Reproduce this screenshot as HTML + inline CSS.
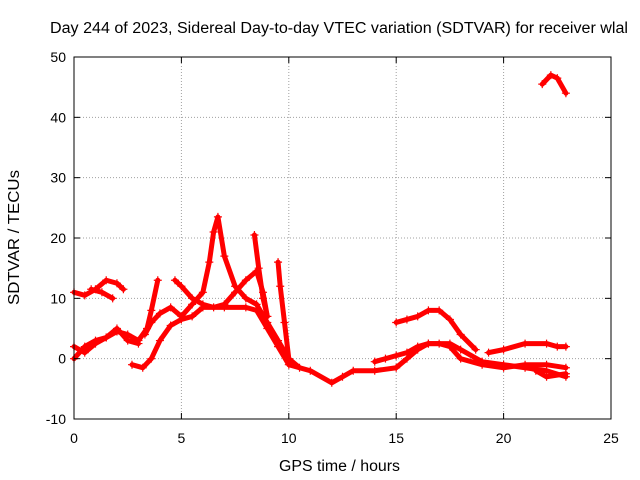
<!DOCTYPE html>
<html><head><meta charset="utf-8"><style>
body{margin:0;background:#fff;}
svg{display:block;font-family:"Liberation Sans",sans-serif;}
</style></head><body>
<svg id="chart" width="640" height="480">
<rect width="640" height="480" fill="#fff"/>
<g id="grid"></g>
<g id="series"></g>
<g id="axes"></g>
<text x="50" y="33" font-size="15.5" textLength="578" lengthAdjust="spacingAndGlyphs">Day 244 of 2023, Sidereal Day-to-day VTEC variation (SDTVAR) for receiver wlal</text>
<text x="279" y="471" font-size="15.5" textLength="121" lengthAdjust="spacingAndGlyphs">GPS time / hours</text>
<text transform="translate(19,305) rotate(-90)" font-size="15.5" textLength="135" lengthAdjust="spacingAndGlyphs">SDTVAR / TECUs</text>
</svg>
<script>
const xTicks=[0,5,10,15,20,25];
const yTicks=[-10,0,10,20,30,40,50];
const s1=[[21.8,45.5],[22.2,47],[22.5,46.5],[22.9,44]];
const s2=[[0,11],[0.5,10.5],[1,11.5],[1.5,13],[2,12.5],[2.3,11.5]];
const s3=[[0.8,11.5],[1.3,11],[1.8,10]];
const s4=[[0,2],[0.5,1],[1,2.5],[1.5,3.5],[2,4.5],[2.5,4],[3,3],[3.4,5],[3.6,8],[3.9,13]];
const s5=[[0,0],[0.5,2],[1,3],[1.5,3.5],[2,5],[2.5,3],[3,2.5]];
const s6=[[2.7,-1],[3.2,-1.5],[3.6,0],[4,3],[4.5,5.5],[5,6.5],[5.5,7],[6,8.5],[7,8.5],[8,8.5],[8.5,8],[9,5],[9.5,2],[10,-1],[11,-2],[12,-4],[12.5,-3],[13,-2],[14,-2],[15,-1.5],[15.5,0],[16,1.5],[16.5,2.5],[17,2.5],[17.5,2],[18,0],[19,-1],[20,-1.5],[21,-1],[22,-1],[22.9,-1.5]];
const s7=[[3.3,4],[3.6,6],[4,7.5],[4.5,8.5],[5,7],[5.5,9],[6,11],[6.3,16],[6.5,21],[6.7,23.5],[7,17],[7.5,12],[8,10],[8.5,9],[9,6],[9.5,3],[10,0]];
const s8=[[4.7,13],[5,12],[5.5,10],[6,9],[6.5,8.5],[7,9],[7.5,11],[8,13],[8.5,14.5],[8.8,11],[9,7]];
const s9=[[8.4,20.5],[8.6,15],[8.8,10],[9,7]];
const s10=[[9.5,16],[9.6,12],[9.8,6],[10,0],[10.5,-1.5]];
const s11=[[15,6],[15.5,6.5],[16,7],[16.5,8],[17,8],[17.5,6.5],[18,4],[18.7,1.5]];
const s12=[[19.3,1],[20,1.5],[21,2.5],[22,2.5],[22.5,2],[22.9,2]];
const s13=[[14,-0.5],[14.5,0],[15,0.5],[15.5,1],[16,2],[16.5,2.5],[17.5,2.5],[18,1.5],[19,-0.5],[20,-1],[21,-1.5],[22,-2],[22.9,-3]];
const s14=[[21.5,-2],[22,-3],[22.9,-2.5]];
const allSeries=[s1,s2,s3,s4,s5,s6,s7,s8,s9,s10,s11,s12,s13,s14];
const X0=74,X1=611,Y0=419,Y1=57;
const xs=v=>X0+(v-0)/(25-0)*(X1-X0);
const ys=v=>Y0-(v+10)/60*(Y0-Y1);
const NS="http://www.w3.org/2000/svg";
function mk(t,a,p){const e=document.createElementNS(NS,t);for(const k in a)e.setAttribute(k,a[k]);p.appendChild(e);return e;}
const grid=document.getElementById('grid'),axes=document.getElementById('axes'),ser=document.getElementById('series');
xTicks.forEach(t=>{const x=xs(t);
 if(t>0&&t<25){const g=mk('line',{x1:x,x2:x,y1:Y1,y2:Y0,stroke:'#a0a0a0','stroke-dasharray':'1,2'},grid);}
 mk('line',{x1:x,x2:x,y1:Y0,y2:Y0-6,stroke:'#000'},axes);mk('line',{x1:x,x2:x,y1:Y1,y2:Y1+6,stroke:'#000'},axes);
 const l=mk('text',{x:x,y:Y0+24,'text-anchor':'middle','font-size':14},axes);l.textContent=t;
 });
yTicks.forEach(t=>{const y=ys(t);
 if(t>-10&&t<50){const g=mk('line',{x1:X0,x2:X1,y1:y,y2:y,stroke:'#a0a0a0','stroke-dasharray':'1,2'},grid);}
 mk('line',{x1:X0,x2:X0+6,y1:y,y2:y,stroke:'#000'},axes);mk('line',{x1:X1,x2:X1-6,y1:y,y2:y,stroke:'#000'},axes);
 const l=mk('text',{x:X0-8,y:y+5,'text-anchor':'end','font-size':14},axes);l.textContent=t;
 });
const b=mk('rect',{x:X0,y:Y1,width:X1-X0,height:Y0-Y1,fill:'none',stroke:'#000'},axes);

allSeries.forEach((s,i)=>{
 const pl=mk('polyline',{points:s.map(p=>xs(p[0])+','+ys(p[1])).join(' '),fill:'none',stroke:'#f00','stroke-width':5,'stroke-linejoin':'round','stroke-linecap':'round'},ser);
 
 
 s.forEach(p=>{const x=xs(p[0]),y=ys(p[1]);
  const m=mk('path',{d:`M${x-4},${y}H${x+4}M${x},${y-4}V${y+4}`,stroke:'#f00','stroke-width':1.2},ser);
  
  });
});
</script>
</body></html>
